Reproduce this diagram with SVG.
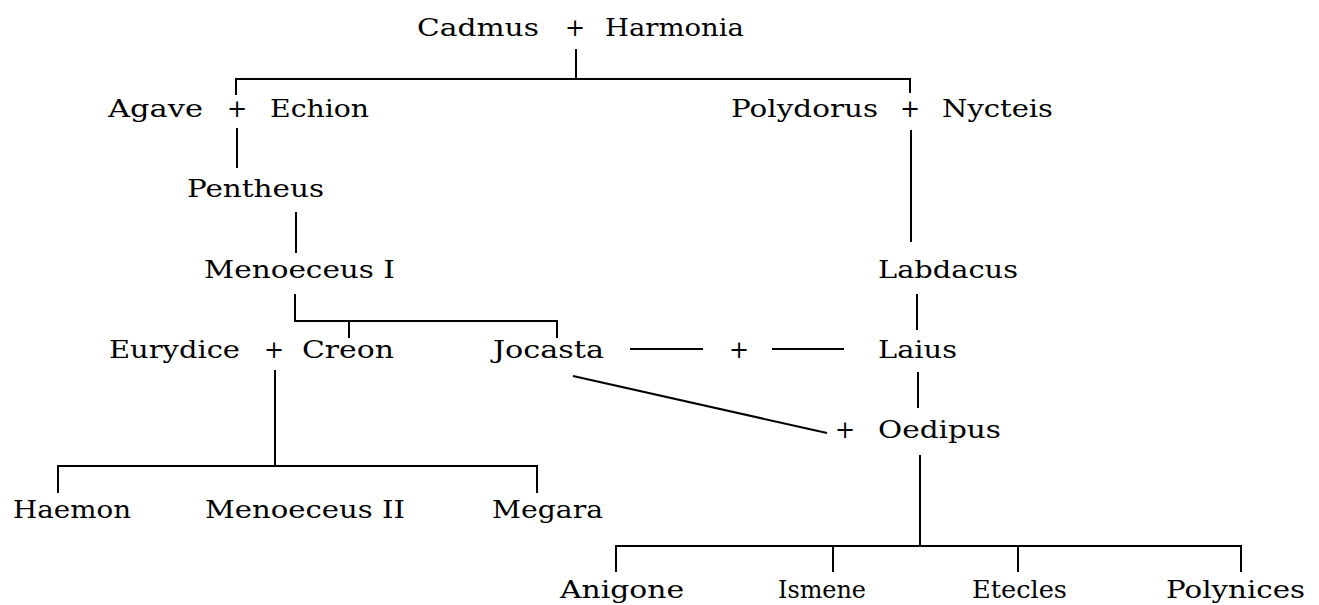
<svg xmlns="http://www.w3.org/2000/svg" width="1319" height="605" viewBox="0 0 1319 605">
<style>
text{font-family:"DejaVu Serif","Liberation Serif",serif;font-size:24px;fill:#000}
.plus{text-anchor:middle}
.c path{fill:none;stroke:#000;stroke-width:2}
</style>
<rect width="1319" height="605" fill="#fff"/>
<g class="c" id="connectors">
<path d="M576 49V79"/>
<path d="M236 95V79H910V93"/>
<path d="M237 128V168"/>
<path d="M296 212V253"/>
<path d="M911 130V242"/>
<path d="M295 294V321H557V338M349 321V338"/>
<path d="M917 294V330"/>
<path d="M630 349H703M772 349H844"/>
<path d="M275 370V466M58 493V466H537V493"/>
<path d="M573 376L827 433"/>
<path d="M918 372V408"/>
<path d="M920 455V546M616 572V546H1241V572M833 546V572M1018 546V572"/>
</g>
<g id="n-cadmus-harmonia"><text x="417" y="36" textLength="122" lengthAdjust="spacingAndGlyphs">Cadmus</text><text class="plus" x="575" y="36">+</text><text x="605" y="36" textLength="139" lengthAdjust="spacingAndGlyphs">Harmonia</text></g>
<g id="n-agave-echion"><text x="108" y="117" textLength="95" lengthAdjust="spacingAndGlyphs">Agave</text><text class="plus" x="237" y="117">+</text><text x="270" y="117" textLength="99" lengthAdjust="spacingAndGlyphs">Echion</text></g>
<g id="n-polydorus-nycteis"><text x="731" y="117" textLength="147" lengthAdjust="spacingAndGlyphs">Polydorus</text><text class="plus" x="910" y="117">+</text><text x="942" y="117" textLength="111" lengthAdjust="spacingAndGlyphs">Nycteis</text></g>
<g id="n-pentheus"><text x="187" y="197" textLength="137" lengthAdjust="spacingAndGlyphs">Pentheus</text></g>
<g id="n-menoeceus1"><text x="204" y="278" textLength="191" lengthAdjust="spacingAndGlyphs">Menoeceus I</text></g>
<g id="n-labdacus"><text x="878" y="278" textLength="140" lengthAdjust="spacingAndGlyphs">Labdacus</text></g>
<g id="n-eurydice-creon"><text x="109" y="358" textLength="131" lengthAdjust="spacingAndGlyphs">Eurydice</text><text class="plus" x="274" y="358">+</text><text x="302" y="358" textLength="92" lengthAdjust="spacingAndGlyphs">Creon</text></g>
<g id="n-jocasta"><text x="493" y="358" textLength="111" lengthAdjust="spacingAndGlyphs">Jocasta</text></g>
<g id="n-jocasta-laius-plus"><text class="plus" x="739" y="358">+</text></g>
<g id="n-laius"><text x="878" y="358" textLength="79" lengthAdjust="spacingAndGlyphs">Laius</text></g>
<g id="n-oedipus"><text class="plus" x="845" y="438">+</text><text x="878" y="438" textLength="123" lengthAdjust="spacingAndGlyphs">Oedipus</text></g>
<g id="n-haemon"><text x="13" y="518" textLength="118" lengthAdjust="spacingAndGlyphs">Haemon</text></g>
<g id="n-menoeceus2"><text x="205" y="518" textLength="200" lengthAdjust="spacingAndGlyphs">Menoeceus II</text></g>
<g id="n-megara"><text x="492" y="518" textLength="111" lengthAdjust="spacingAndGlyphs">Megara</text></g>
<g id="n-anigone"><text x="560" y="598" textLength="124" lengthAdjust="spacingAndGlyphs">Anigone</text></g>
<g id="n-ismene"><text x="778" y="598" textLength="88" lengthAdjust="spacingAndGlyphs">Ismene</text></g>
<g id="n-etecles"><text x="972" y="598" textLength="95" lengthAdjust="spacingAndGlyphs">Etecles</text></g>
<g id="n-polynices"><text x="1166" y="598" textLength="139" lengthAdjust="spacingAndGlyphs">Polynices</text></g>
</svg>
